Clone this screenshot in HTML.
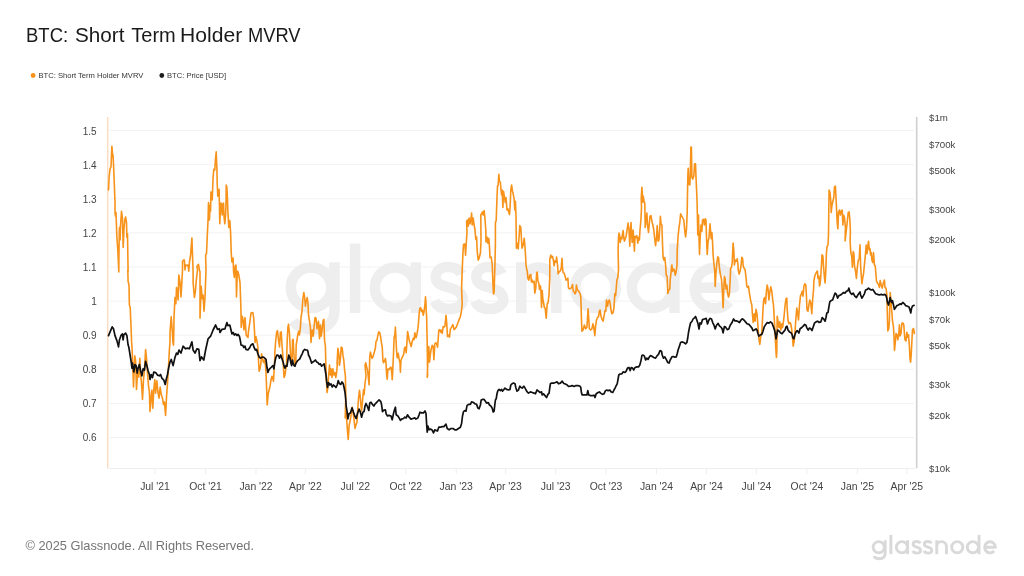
<!DOCTYPE html>
<html><head><meta charset="utf-8"><title>BTC: Short Term Holder MVRV</title>
<style>
html,body{margin:0;padding:0;background:#fff;}
body{width:1024px;height:576px;position:relative;overflow:hidden;filter:blur(0.55px);font-family:"Liberation Sans",sans-serif;color:#222;}
.tw{position:absolute;top:23px;font-size:20px;line-height:24px;color:#1a1a1c;white-space:nowrap;transform-origin:0 0;display:block;}
.legend{position:absolute;top:71.1px;font-size:7.6px;line-height:10px;color:#333;white-space:nowrap;}
.dot{position:absolute;width:4.4px;height:4.4px;border-radius:50%;}
.yl{position:absolute;left:61.7px;width:35px;text-align:right;font-size:10px;line-height:12px;color:#444;}
.yr{position:absolute;left:929px;font-size:9.7px;line-height:12px;color:#444;white-space:nowrap;}
.xl{position:absolute;top:481px;width:60px;text-align:center;font-size:10.4px;line-height:12px;color:#444;white-space:nowrap;}
.copy{position:absolute;left:25.5px;top:538px;font-size:12.8px;line-height:16px;color:#757575;white-space:nowrap;}
svg{position:absolute;left:0;top:0;}
</style></head><body>
<svg width="1024" height="576" viewBox="0 0 1024 576">
<circle cx="33.1" cy="75.5" r="2.4" fill="#f7931a"/><circle cx="161.8" cy="75.5" r="2.4" fill="#1c1c1e"/>
<line x1="109.5" x2="914" y1="130.60" y2="130.60" stroke="#f2f2f2" stroke-width="1"/>
<line x1="109.5" x2="914" y1="164.70" y2="164.70" stroke="#f2f2f2" stroke-width="1"/>
<line x1="109.5" x2="914" y1="198.80" y2="198.80" stroke="#f2f2f2" stroke-width="1"/>
<line x1="109.5" x2="914" y1="232.90" y2="232.90" stroke="#f2f2f2" stroke-width="1"/>
<line x1="109.5" x2="914" y1="267.00" y2="267.00" stroke="#f2f2f2" stroke-width="1"/>
<line x1="109.5" x2="914" y1="301.10" y2="301.10" stroke="#f2f2f2" stroke-width="1"/>
<line x1="109.5" x2="914" y1="335.20" y2="335.20" stroke="#f2f2f2" stroke-width="1"/>
<line x1="109.5" x2="914" y1="369.30" y2="369.30" stroke="#f2f2f2" stroke-width="1"/>
<line x1="109.5" x2="914" y1="403.40" y2="403.40" stroke="#f2f2f2" stroke-width="1"/>
<line x1="109.5" x2="914" y1="437.50" y2="437.50" stroke="#f2f2f2" stroke-width="1"/>
<line x1="107.5" x2="916.5" y1="468.5" y2="468.5" stroke="#eeeeee" stroke-width="1"/>
<line x1="155.0" x2="155.0" y1="468" y2="474" stroke="#eeeeee" stroke-width="1"/>
<line x1="205.48" x2="205.48" y1="468" y2="474" stroke="#eeeeee" stroke-width="1"/>
<line x1="255.96" x2="255.96" y1="468" y2="474" stroke="#eeeeee" stroke-width="1"/>
<line x1="305.35" x2="305.35" y1="468" y2="474" stroke="#eeeeee" stroke-width="1"/>
<line x1="355.28" x2="355.28" y1="468" y2="474" stroke="#eeeeee" stroke-width="1"/>
<line x1="405.77" x2="405.77" y1="468" y2="474" stroke="#eeeeee" stroke-width="1"/>
<line x1="456.25" x2="456.25" y1="468" y2="474" stroke="#eeeeee" stroke-width="1"/>
<line x1="505.63" x2="505.63" y1="468" y2="474" stroke="#eeeeee" stroke-width="1"/>
<line x1="555.57" x2="555.57" y1="468" y2="474" stroke="#eeeeee" stroke-width="1"/>
<line x1="606.05" x2="606.05" y1="468" y2="474" stroke="#eeeeee" stroke-width="1"/>
<line x1="656.53" x2="656.53" y1="468" y2="474" stroke="#eeeeee" stroke-width="1"/>
<line x1="706.46" x2="706.46" y1="468" y2="474" stroke="#eeeeee" stroke-width="1"/>
<line x1="756.4" x2="756.4" y1="468" y2="474" stroke="#eeeeee" stroke-width="1"/>
<line x1="806.88" x2="806.88" y1="468" y2="474" stroke="#eeeeee" stroke-width="1"/>
<line x1="857.36" x2="857.36" y1="468" y2="474" stroke="#eeeeee" stroke-width="1"/>
<line x1="906.75" x2="906.75" y1="468" y2="474" stroke="#eeeeee" stroke-width="1"/>
<line x1="107.7" x2="107.7" y1="117" y2="468" stroke="#fbdcc0" stroke-width="1.4"/>
<line x1="916.7" x2="916.7" y1="117" y2="468" stroke="#d0d0d2" stroke-width="1.6"/>
<g transform="translate(285.6,313)" stroke="#eeeeee" fill="none" stroke-width="10.5" stroke-linecap="butt" stroke-linejoin="round"><circle cx="25.5" cy="-25.35" r="20.25"/><path d="M48.85,-50.7 V-3 C48.85,10 40,16.5 28,16.5 C18,16.5 11,13 7.5,8"/><path d="M69.45,-69.5 V0"/><circle cx="109.6" cy="-25.35" r="20.25"/><path d="M130.15,-50.7 V0"/><path d="M175.6,-39 C173.6,-43.5 168.6,-46 162.6,-46 C154.6,-46 150.1,-41.5 150.1,-36 C150.1,-29.5 155.6,-27.5 163.1,-25.5 C171.1,-23.3 177.1,-20.5 177.1,-13.5 C177.1,-8 171.6,-4 163.1,-4 C156.1,-4 151.1,-7 148.85,-12"/><path d="M216.2,-39 C214.2,-43.5 209.2,-46 203.2,-46 C195.2,-46 190.7,-41.5 190.7,-36 C190.7,-29.5 196.2,-27.5 203.7,-25.5 C211.7,-23.3 217.7,-20.5 217.7,-13.5 C217.7,-8 212.2,-4 203.7,-4 C196.7,-4 191.7,-7 189.45,-12"/><path d="M235.65,0 V-50.7 M235.65,-28 A17.55,17.55 0 0 1 270.75,-28 V0"/><circle cx="309.9" cy="-25.35" r="20.25"/><circle cx="366.5" cy="-25.35" r="20.25"/><path d="M388.85,-69.5 V0"/><path d="M409.5,-25.35 H448.35 A19.6,20.25 0 1 0 443.5,-11.5"/></g>
<path d="M108.5 190.0 L109.1 177.5 L110.0 168.8 L111.0 166.9 L111.9 146.2 L112.5 153.8 L113.0 155.0 L113.5 163.8 L114.2 181.2 L115.0 202.5 L115.0 212.5 L115.5 216.2 L116.0 212.5 L116.9 237.5 L117.8 250.0 L118.8 272.0 L119.0 250.0 L119.4 228.8 L119.9 226.9 L120.1 240.0 L120.6 225.0 L121.5 211.2 L122.5 218.8 L123.2 247.5 L124.0 228.8 L124.8 220.0 L125.6 216.9 L126.5 222.5 L126.9 237.5 L127.5 233.8 L128.1 272.0 L127.8 270.0 L128.1 281.2 L129.0 285.0 L129.4 305.0 L130.2 307.5 L131.0 326.2 L131.6 342.0 L131.9 345.8 L132.5 358.2 L133.5 387.0 L134.0 373.2 L134.8 355.8 L135.6 360.8 L136.5 389.5 L137.5 373.2 L138.8 377.0 L139.8 358.2 L140.6 373.2 L141.5 383.2 L142.5 399.5 L143.5 379.5 L144.4 370.8 L145.6 349.5 L146.5 358.2 L147.5 373.2 L148.5 385.8 L149.4 392.0 L150.0 411.4 L151.0 398.2 L151.9 390.1 L152.8 408.2 L153.8 389.5 L154.8 379.5 L155.6 393.2 L156.9 380.8 L157.9 392.0 L159.0 398.2 L160.2 387.0 L161.2 394.5 L162.5 398.2 L163.5 404.5 L164.4 402.0 L165.6 415.5 L166.5 397.0 L167.5 383.2 L168.5 367.0 L169.4 349.5 L170.0 342.0 L170.0 332.5 L171.2 316.9 L172.2 330.0 L172.9 342.0 L173.5 345.1 L173.8 332.5 L174.0 317.5 L175.0 297.5 L175.9 303.8 L176.5 287.5 L177.5 292.5 L178.1 300.0 L178.8 275.0 L180.0 282.5 L181.0 296.9 L181.9 281.2 L182.5 270.0 L182.5 261.2 L183.5 260.0 L184.4 260.0 L185.0 270.0 L185.6 265.0 L186.9 265.6 L188.1 265.0 L188.8 271.2 L189.4 262.5 L190.6 255.0 L191.9 238.1 L192.5 255.0 L193.1 272.0 L193.1 282.5 L194.4 297.5 L195.4 291.2 L196.2 281.2 L197.5 270.0 L196.9 266.2 L198.5 264.4 L199.4 270.0 L200.0 272.0 L200.0 318.1 L201.2 286.2 L202.2 298.8 L203.1 295.0 L204.0 311.2 L205.0 297.5 L206.0 270.0 L205.6 255.0 L206.5 253.8 L207.2 237.5 L208.1 218.8 L208.5 202.5 L209.4 220.0 L210.2 205.0 L210.6 211.0 L210.9 192.0 L211.9 192.5 L212.2 200.0 L213.1 177.5 L213.8 169.4 L214.8 170.0 L215.4 160.0 L216.2 151.9 L216.9 168.8 L217.2 183.8 L217.8 196.2 L218.5 190.0 L219.1 189.4 L219.8 223.8 L220.6 205.0 L221.0 203.0 L221.5 203.8 L222.2 215.0 L223.1 203.8 L223.5 203.0 L224.0 216.2 L224.8 223.8 L225.6 215.0 L226.1 200.0 L226.2 185.0 L226.9 187.5 L227.5 200.0 L227.8 210.0 L228.8 227.5 L229.8 220.6 L230.6 232.5 L231.2 252.5 L231.9 262.0 L233.1 258.0 L233.6 272.0 L234.4 277.5 L235.2 266.0 L236.0 265.0 L236.5 296.9 L237.3 271.0 L238.1 272.0 L238.8 275.0 L240.0 282.5 L240.9 307.5 L241.2 327.5 L242.2 316.2 L243.1 320.0 L244.0 330.0 L245.0 317.5 L246.2 335.0 L248.0 337.5 L248.5 331.2 L249.8 322.5 L251.0 313.1 L252.9 312.5 L253.8 318.8 L254.5 331.2 L255.0 342.5 L256.0 336.9 L257.0 341.2 L257.9 347.5 L258.5 360.0 L259.1 371.2 L260.0 368.8 L261.0 362.5 L261.6 353.8 L262.5 358.8 L263.5 362.5 L264.5 360.0 L265.4 365.0 L266.0 372.5 L266.6 387.5 L267.2 405.0 L268.2 393.8 L269.1 390.0 L270.0 386.2 L271.0 380.0 L272.0 376.2 L272.9 378.8 L273.5 381.2 L274.1 370.0 L274.8 357.5 L274.8 352.5 L275.8 340.0 L276.6 332.5 L277.5 330.6 L278.5 340.0 L279.5 346.9 L280.4 332.5 L281.2 331.9 L282.0 345.0 L282.9 356.2 L283.5 368.8 L284.1 377.5 L285.0 375.0 L285.8 368.8 L286.5 365.0 L287.2 340.0 L287.9 327.5 L288.5 324.4 L289.5 333.8 L290.4 352.5 L291.0 362.0 L291.5 364.4 L292.0 362.0 L292.5 340.0 L293.2 339.4 L293.8 352.5 L294.5 362.0 L295.1 365.6 L295.8 362.0 L296.2 345.0 L297.0 340.0 L297.9 333.8 L298.8 331.2 L299.5 335.0 L300.4 327.5 L301.0 317.5 L302.0 311.2 L302.9 298.8 L303.8 292.5 L304.5 296.2 L305.4 306.2 L306.2 301.2 L307.2 297.5 L307.9 302.5 L308.5 315.0 L309.5 321.2 L310.4 327.5 L311.0 342.5 L311.6 335.0 L312.2 330.0 L313.2 336.2 L314.1 326.2 L315.0 317.5 L316.0 318.1 L317.0 328.8 L317.9 323.8 L318.5 321.2 L319.5 338.8 L320.4 325.0 L321.2 336.2 L322.2 328.8 L323.2 320.0 L323.9 319.4 L324.5 340.0 L325.4 346.2 L325.8 362.5 L326.2 375.0 L327.0 392.5 L327.9 387.5 L328.5 377.5 L329.5 365.0 L330.4 375.0 L331.0 368.8 L332.0 377.5 L332.9 368.8 L333.8 375.0 L334.8 372.5 L335.8 377.5 L336.6 372.5 L337.5 362.5 L337.0 364.0 L337.9 348.4 L338.8 354.0 L339.5 365.2 L340.4 359.0 L341.2 347.1 L342.2 347.8 L342.9 355.2 L343.8 360.2 L344.5 369.0 L345.4 376.0 L345.8 395.0 L345.2 418.0 L346.1 412.0 L347.0 424.0 L347.5 431.0 L348.2 439.5 L349.1 426.0 L350.8 417.2 L351.6 409.8 L352.2 407.2 L353.2 413.5 L354.1 419.8 L355.0 428.5 L356.0 424.8 L357.0 422.2 L357.9 407.2 L358.5 398.5 L359.5 390.4 L360.4 398.5 L361.0 406.0 L361.6 411.0 L362.5 401.0 L363.5 389.8 L364.1 394.8 L365.0 383.5 L366.0 376.0 L365.0 365.2 L365.8 362.8 L366.6 366.5 L367.5 370.2 L368.2 376.0 L369.1 384.8 L369.5 366.5 L369.8 356.5 L370.4 352.1 L371.2 355.2 L372.0 358.4 L372.9 357.1 L373.8 354.0 L374.5 351.5 L375.4 347.8 L376.0 341.5 L377.0 340.2 L377.9 335.2 L378.8 331.8 L379.8 332.8 L380.8 337.8 L381.6 344.0 L382.2 346.5 L382.9 360.2 L383.5 362.8 L384.5 360.9 L385.4 358.4 L386.0 362.8 L386.6 374.0 L387.2 379.1 L387.9 369.0 L389.1 369.6 L390.0 367.8 L391.0 367.1 L391.9 374.0 L392.2 379.8 L392.6 374.0 L393.0 364.0 L393.5 354.0 L394.1 337.8 L394.8 335.2 L395.4 327.1 L396.0 339.0 L396.6 351.5 L397.2 357.8 L398.2 353.4 L399.1 359.0 L400.0 362.8 L400.4 372.1 L401.0 360.2 L402.0 357.8 L402.9 355.9 L403.8 354.0 L404.5 347.8 L405.4 347.1 L406.2 352.8 L407.0 341.5 L407.6 331.5 L408.5 336.5 L409.5 341.5 L410.4 344.0 L411.2 346.5 L412.2 341.5 L413.2 338.4 L414.1 339.6 L414.8 332.8 L416.0 337.8 L417.0 334.0 L417.9 328.4 L418.5 322.8 L419.1 314.0 L419.8 308.4 L420.8 307.8 L421.6 311.5 L422.5 310.2 L423.2 315.2 L424.1 311.5 L425.1 302.8 L425.5 296.8 L426.0 302.8 L426.2 310.2 L426.6 316.5 L427.2 341.5 L427.6 376.0 L427.2 377.2 L428.2 354.0 L428.8 346.5 L429.5 362.1 L430.4 354.0 L431.2 349.0 L432.2 345.2 L433.2 346.5 L433.9 359.6 L434.8 344.0 L435.8 342.8 L436.6 343.4 L437.5 347.1 L438.2 339.0 L438.8 330.2 L439.8 329.6 L440.8 332.1 L441.6 330.2 L442.2 333.4 L443.2 326.5 L444.1 327.1 L445.0 325.9 L446.0 315.2 L446.6 321.5 L447.5 336.5 L448.5 335.2 L449.5 337.1 L450.4 329.0 L451.6 327.1 L452.9 324.6 L454.1 329.6 L455.4 328.4 L456.6 326.5 L457.9 322.8 L459.1 319.6 L460.4 316.5 L461.6 310.2 L462.2 304.0 L461.6 288.2 L462.2 269.5 L462.9 254.5 L463.5 244.5 L464.5 243.9 L465.0 245.8 L465.5 255.1 L466.2 244.5 L467.0 232.0 L466.6 221.2 L467.5 220.0 L468.2 226.2 L469.1 218.1 L470.0 223.8 L470.8 220.0 L471.6 213.1 L472.2 225.0 L473.2 218.1 L474.1 225.0 L475.0 230.0 L475.8 239.5 L476.6 237.0 L477.2 250.8 L478.2 260.1 L479.1 258.2 L480.4 253.2 L481.0 242.0 L480.8 215.0 L481.6 213.8 L482.5 211.9 L483.2 215.0 L484.1 210.6 L485.0 218.8 L485.8 230.0 L486.0 242.0 L487.0 237.0 L487.9 243.2 L488.8 238.2 L489.5 247.0 L490.0 257.6 L491.2 257.0 L492.2 264.5 L492.9 282.0 L493.5 293.9 L494.1 292.0 L494.8 269.5 L495.4 244.5 L495.4 222.5 L496.2 220.6 L497.0 197.5 L497.5 186.2 L498.2 185.0 L498.8 174.4 L499.5 181.2 L500.4 182.5 L501.0 190.0 L501.6 195.0 L502.2 190.0 L502.9 207.5 L503.5 191.2 L504.5 197.5 L505.4 202.5 L506.0 197.5 L507.0 210.0 L507.9 208.8 L508.8 212.5 L509.5 214.4 L510.1 207.5 L510.8 190.0 L511.6 185.0 L512.5 191.2 L513.2 193.8 L514.1 198.8 L514.8 210.0 L515.4 201.2 L516.0 216.2 L516.4 248.2 L517.2 243.2 L518.2 248.9 L518.9 239.5 L519.8 225.6 L520.8 227.5 L522.0 248.2 L522.9 245.8 L523.5 243.2 L524.2 238.2 L524.8 244.5 L525.4 253.2 L526.0 264.5 L526.6 268.9 L527.2 270.8 L527.9 278.2 L528.8 280.1 L529.8 275.1 L530.8 274.5 L531.4 282.0 L532.2 280.1 L533.2 282.6 L534.1 281.4 L534.8 293.2 L535.8 288.2 L536.6 273.2 L537.2 272.0 L537.9 280.8 L538.8 283.2 L539.5 289.5 L540.4 285.8 L541.0 291.4 L541.5 307.5 L542.2 290.6 L542.8 298.8 L543.5 302.5 L544.4 307.5 L545.2 308.1 L546.2 318.1 L547.2 303.8 L548.1 302.5 L549.0 295.0 L549.8 276.2 L549.8 259.5 L550.8 255.1 L551.6 257.6 L552.5 256.4 L553.5 260.8 L554.1 265.8 L555.0 260.8 L556.0 262.0 L556.6 257.0 L557.5 264.5 L558.2 273.9 L559.1 272.0 L560.4 270.8 L561.2 268.2 L562.0 258.2 L562.5 268.2 L563.2 272.6 L564.1 273.2 L565.0 275.8 L566.0 280.1 L567.0 279.5 L567.9 278.2 L568.5 288.2 L569.5 288.9 L570.8 288.2 L571.6 287.6 L572.5 284.5 L573.2 290.8 L574.1 292.0 L575.0 293.9 L575.8 292.6 L576.4 285.1 L577.2 289.5 L578.2 290.8 L579.1 292.0 L580.0 293.2 L580.8 297.0 L581.5 320.0 L581.9 331.2 L583.1 330.0 L584.4 325.0 L585.6 328.8 L586.9 327.5 L587.5 318.8 L588.1 308.8 L588.8 320.0 L589.4 328.8 L590.6 330.0 L591.9 328.8 L592.9 323.8 L593.8 327.5 L594.8 335.6 L595.6 326.2 L596.5 320.0 L597.5 317.5 L598.5 316.9 L599.4 311.2 L600.0 310.0 L601.0 316.2 L601.9 318.8 L603.1 321.2 L604.0 316.2 L605.0 310.6 L605.8 311.2 L606.5 300.0 L607.5 306.2 L608.5 301.2 L609.4 300.0 L610.2 303.8 L611.0 310.0 L611.9 313.8 L613.1 312.5 L614.0 307.5 L614.8 293.8 L615.6 295.6 L616.2 288.8 L616.9 280.0 L617.8 277.5 L618.5 270.0 L618.1 250.0 L618.5 237.5 L619.0 233.1 L619.8 236.2 L620.2 242.5 L621.0 237.5 L621.9 238.8 L622.5 233.8 L623.1 230.6 L623.8 237.5 L624.4 241.2 L625.2 238.8 L626.2 236.2 L627.2 228.8 L628.1 223.1 L629.0 230.0 L629.8 246.2 L630.4 231.2 L631.0 222.5 L631.5 232.5 L632.2 242.5 L633.1 230.0 L633.8 240.0 L634.4 251.2 L635.0 236.2 L636.0 237.5 L636.9 235.6 L637.8 243.1 L638.5 237.5 L639.4 240.0 L640.0 230.0 L641.0 218.8 L641.5 207.5 L641.2 198.5 L641.9 187.2 L642.4 194.8 L642.8 202.2 L643.2 196.0 L644.0 201.0 L644.8 203.5 L645.2 227.5 L646.0 220.0 L646.9 213.1 L647.5 225.0 L648.5 232.5 L649.4 222.5 L650.0 216.2 L651.0 215.6 L651.9 221.2 L652.8 225.0 L653.8 230.0 L654.4 236.2 L655.0 241.2 L655.6 245.6 L656.5 237.5 L657.2 225.6 L658.1 241.2 L659.0 240.0 L659.8 227.5 L660.4 216.2 L661.0 223.8 L661.9 225.0 L662.5 243.8 L663.1 257.5 L663.8 260.0 L664.8 257.5 L665.6 265.0 L666.2 275.2 L667.2 276.5 L667.8 293.4 L668.8 290.2 L669.8 289.0 L670.2 280.2 L671.0 272.8 L671.6 266.5 L671.9 265.0 L672.5 271.5 L673.5 269.0 L674.4 270.2 L675.2 275.2 L676.2 271.5 L677.0 265.2 L677.2 250.0 L678.1 236.2 L679.0 227.5 L679.8 222.5 L680.6 213.8 L681.5 215.6 L682.5 217.5 L683.8 220.0 L684.8 231.2 L685.6 236.9 L686.5 228.8 L687.2 212.5 L687.5 193.5 L687.8 177.2 L688.2 168.2 L688.8 184.1 L689.8 185.0 L690.2 177.2 L690.9 147.0 L691.4 147.0 L691.9 177.2 L692.8 179.1 L693.8 176.0 L694.6 163.8 L695.5 163.8 L696.0 177.2 L696.8 194.8 L697.2 206.0 L697.2 207.5 L697.8 235.0 L698.5 215.0 L699.0 237.5 L699.5 254.4 L700.2 237.5 L701.0 225.0 L701.9 231.2 L702.5 220.0 L703.5 219.4 L704.4 225.0 L705.2 218.8 L706.0 220.0 L706.5 237.5 L707.2 254.4 L708.1 241.2 L709.0 237.5 L710.0 223.8 L710.6 231.2 L711.2 238.8 L711.9 232.5 L712.5 241.2 L713.1 255.0 L713.8 262.5 L714.8 272.0 L715.2 286.5 L716.0 272.0 L716.9 262.5 L717.8 256.9 L718.5 257.5 L719.4 267.5 L720.0 272.0 L720.6 275.2 L721.5 279.0 L722.2 289.0 L723.1 307.8 L723.8 289.0 L724.4 276.5 L725.2 279.0 L726.0 289.0 L726.9 285.2 L727.5 292.8 L728.5 297.1 L729.4 294.0 L730.0 282.8 L730.5 272.0 L730.6 268.1 L731.5 267.5 L732.2 262.5 L733.1 243.1 L733.8 250.0 L734.4 265.0 L735.2 260.0 L736.2 261.2 L737.2 258.8 L738.0 265.0 L738.2 269.8 L739.2 274.1 L740.1 271.0 L741.0 266.0 L741.8 257.2 L742.6 258.5 L743.2 266.0 L744.2 268.5 L745.1 269.8 L746.0 277.2 L746.8 286.2 L747.6 287.5 L748.5 286.2 L749.5 293.8 L750.8 301.2 L751.8 305.0 L752.6 316.2 L753.2 322.5 L754.2 313.8 L755.1 321.2 L756.0 309.4 L757.0 313.8 L757.6 321.2 L758.2 330.0 L758.9 338.8 L759.8 344.4 L760.8 336.2 L761.8 332.5 L762.6 317.5 L763.2 305.0 L763.9 298.8 L764.8 297.5 L765.5 303.8 L766.4 291.2 L767.2 285.0 L768.0 288.8 L768.9 300.0 L769.8 292.5 L770.8 286.9 L771.8 291.2 L772.6 298.8 L773.5 305.0 L774.2 317.5 L774.9 330.0 L775.5 342.5 L776.0 352.0 L776.4 357.5 L776.8 352.0 L777.2 316.2 L778.0 321.2 L778.9 327.5 L779.8 321.9 L780.8 330.0 L781.8 323.8 L782.6 327.5 L783.5 321.2 L784.2 315.0 L785.1 305.0 L786.0 298.8 L786.8 298.1 L787.2 308.8 L788.0 320.0 L788.9 323.8 L789.8 322.5 L790.8 323.8 L791.8 330.0 L792.6 338.8 L793.2 346.2 L794.2 341.2 L795.1 330.0 L796.0 317.5 L796.8 308.1 L797.6 312.5 L798.5 320.0 L799.5 305.0 L800.5 295.6 L801.4 293.8 L802.2 291.2 L803.0 296.2 L803.9 286.2 L804.8 283.8 L805.8 285.0 L806.4 295.0 L807.0 310.0 L808.0 311.2 L808.9 305.0 L809.8 300.0 L810.8 303.1 L811.8 313.8 L812.6 300.0 L813.5 290.0 L813.9 281.0 L814.8 276.0 L815.8 273.5 L816.8 271.6 L817.4 271.0 L818.0 278.5 L818.9 276.0 L819.5 286.0 L820.1 284.1 L820.8 276.0 L821.4 266.0 L822.0 254.8 L822.9 256.0 L823.5 266.0 L824.2 274.8 L825.1 282.9 L825.8 271.0 L826.4 253.5 L827.0 246.6 L828.0 244.8 L828.5 234.8 L828.8 210.0 L829.1 190.0 L830.0 192.5 L830.8 201.2 L831.2 212.5 L832.0 205.0 L832.9 201.2 L833.8 197.5 L834.5 186.9 L835.4 186.2 L836.0 197.5 L836.6 210.0 L837.2 222.5 L837.9 228.8 L838.5 212.5 L839.5 210.0 L840.4 215.0 L841.2 211.2 L842.2 210.0 L842.9 225.0 L843.5 215.0 L844.5 217.5 L845.4 227.5 L845.1 241.0 L847.2 222.5 L848.2 212.5 L849.1 211.9 L849.8 218.8 L850.4 232.0 L850.1 241.0 L850.8 252.2 L851.8 257.2 L852.4 267.2 L853.2 251.6 L853.9 253.5 L854.5 266.0 L855.5 271.0 L856.4 278.5 L857.2 268.5 L858.2 260.4 L859.2 259.1 L860.0 244.8 L860.6 265.0 L861.2 275.0 L861.9 283.8 L862.8 277.5 L863.5 273.8 L864.4 265.0 L865.0 258.8 L865.6 252.5 L866.2 245.0 L866.9 253.8 L867.8 247.5 L868.5 241.2 L869.4 250.0 L870.0 248.8 L870.6 255.0 L871.2 252.5 L871.9 260.0 L872.8 262.5 L873.5 252.5 L874.4 265.0 L875.2 265.6 L876.0 275.0 L876.5 281.2 L877.5 283.1 L878.5 284.4 L879.4 287.5 L880.2 280.6 L881.2 285.0 L882.2 288.1 L883.1 283.8 L884.4 280.0 L885.0 287.5 L886.0 288.1 L886.9 295.0 L887.1 305.0 L887.2 308.5 L887.8 331.0 L888.8 328.5 L889.4 321.0 L889.8 303.5 L890.2 292.5 L891.0 301.0 L891.5 308.5 L891.9 312.2 L892.5 321.0 L893.5 327.2 L894.0 337.2 L894.5 350.4 L895.2 343.5 L896.0 333.5 L896.9 334.8 L897.8 339.8 L898.8 333.5 L899.4 324.8 L900.0 336.0 L901.0 333.5 L901.9 323.5 L902.8 322.9 L903.8 324.8 L904.4 333.5 L905.0 339.8 L906.0 341.0 L906.9 332.2 L907.5 337.2 L908.5 334.8 L909.4 346.0 L910.0 358.5 L910.6 362.2 L911.2 354.8 L911.9 341.0 L912.5 329.8 L913.5 328.5 L914.4 333.5" fill="none" stroke="#f7931a" stroke-width="1.6" stroke-linejoin="round" stroke-linecap="round"/>
<path d="M108.5 335.6 L110.6 330.6 L112.2 326.9 L113.5 328.8 L115.0 335.6 L116.9 340.6 L118.5 346.9 L119.4 340.0 L121.2 335.0 L122.5 333.8 L123.1 340.0 L123.8 335.0 L125.6 333.1 L126.9 335.6 L128.1 345.0 L128.8 347.0 L130.0 354.5 L131.2 362.0 L131.9 368.2 L132.5 363.2 L133.8 372.0 L135.0 364.5 L136.2 365.8 L137.2 373.2 L138.1 368.2 L139.4 364.5 L140.6 370.8 L141.9 375.8 L143.1 368.9 L144.4 370.1 L145.6 361.4 L146.9 365.8 L148.1 370.8 L149.4 374.5 L150.0 379.5 L151.2 374.5 L152.5 377.6 L153.8 372.0 L155.6 372.6 L157.5 375.1 L159.4 375.8 L160.6 374.5 L161.9 378.2 L163.8 380.1 L165.2 384.5 L166.2 379.5 L167.5 374.5 L168.8 367.0 L170.0 362.0 L171.2 359.5 L173.1 365.6 L174.8 358.1 L176.5 353.1 L177.8 354.4 L179.0 350.0 L181.0 353.1 L183.1 346.2 L185.6 348.8 L187.5 348.1 L189.4 348.8 L191.9 341.9 L193.1 350.0 L195.0 353.1 L196.9 348.8 L198.8 349.4 L200.0 360.6 L201.5 356.9 L203.8 360.0 L205.6 350.0 L208.1 338.8 L210.6 336.2 L213.1 330.0 L215.6 325.0 L217.5 329.4 L219.4 328.8 L220.0 332.5 L221.9 329.4 L225.0 328.8 L226.9 322.5 L227.8 325.6 L229.8 325.0 L231.0 330.0 L231.9 333.8 L233.1 332.5 L234.4 335.0 L235.6 333.8 L236.9 335.6 L238.1 334.4 L239.4 336.2 L240.6 342.0 L241.0 345.0 L242.9 345.6 L243.8 347.5 L245.0 346.2 L246.0 349.4 L247.9 350.0 L249.8 347.5 L251.0 345.0 L252.9 343.8 L254.1 347.5 L255.4 350.0 L256.6 349.4 L257.9 353.8 L259.1 356.9 L260.4 358.1 L261.6 357.5 L262.9 356.9 L264.1 357.5 L266.0 359.4 L267.0 367.5 L267.9 372.5 L269.1 369.4 L271.0 367.5 L272.9 365.6 L273.9 368.8 L274.8 362.5 L275.8 357.5 L277.0 355.0 L278.5 355.6 L279.5 358.1 L280.8 355.0 L282.0 358.8 L283.2 362.5 L284.1 366.2 L285.0 368.1 L286.0 365.6 L287.0 366.2 L287.9 360.0 L288.8 355.0 L289.8 357.5 L290.8 362.5 L291.6 365.6 L292.5 360.0 L293.2 363.8 L294.1 365.6 L295.0 366.2 L296.0 363.1 L297.2 361.2 L298.5 360.0 L299.8 358.8 L301.0 356.2 L302.2 353.8 L303.5 350.6 L304.8 349.4 L306.0 350.0 L307.2 350.0 L307.9 351.2 L308.5 355.0 L309.8 357.5 L310.8 360.6 L311.6 363.1 L312.9 361.9 L314.1 361.2 L315.4 360.0 L316.6 361.9 L317.9 362.5 L319.1 364.4 L320.4 363.8 L321.6 366.2 L322.9 365.0 L324.1 363.8 L325.0 368.8 L326.0 375.0 L326.6 381.2 L327.5 387.5 L328.5 382.5 L329.8 385.0 L331.0 383.8 L332.2 386.9 L333.5 385.0 L334.8 386.2 L336.0 387.5 L337.2 385.0 L338.2 380.6 L339.5 383.8 L340.8 384.4 L342.0 381.9 L343.2 383.8 L344.1 387.5 L345.0 392.5 L345.8 400.0 L346.2 406.2 L347.0 411.2 L347.9 418.8 L349.1 413.5 L350.4 412.9 L352.0 407.9 L353.5 412.2 L354.8 416.0 L356.2 418.5 L357.5 413.5 L359.1 409.1 L360.4 412.2 L361.6 417.2 L362.9 412.2 L364.1 411.6 L365.0 406.0 L366.0 403.5 L367.2 406.0 L368.8 410.4 L369.8 402.9 L371.0 402.2 L372.2 404.1 L373.8 406.0 L375.0 404.1 L376.2 402.9 L377.9 401.0 L379.1 399.8 L380.8 401.6 L381.6 404.8 L382.5 411.6 L383.5 410.4 L385.4 409.8 L386.2 414.1 L387.5 416.0 L389.1 415.4 L391.0 416.0 L392.2 419.8 L393.5 413.5 L394.5 409.8 L395.4 407.2 L396.2 414.8 L397.9 416.0 L399.1 417.9 L400.4 420.4 L401.6 419.1 L403.5 418.5 L404.8 417.2 L406.2 417.9 L407.5 414.8 L409.1 417.2 L411.0 419.1 L412.9 418.5 L414.8 417.9 L416.0 419.1 L417.9 417.9 L419.1 414.8 L420.0 412.2 L421.6 412.9 L423.5 412.9 L425.0 411.0 L426.0 413.5 L426.6 423.5 L427.2 432.2 L427.9 426.0 L429.1 429.8 L430.4 429.1 L432.0 429.8 L433.5 432.9 L434.8 429.8 L436.0 430.4 L437.5 431.0 L438.8 427.2 L440.4 427.2 L442.2 426.6 L444.1 426.6 L446.0 424.1 L447.2 428.5 L449.1 429.8 L451.0 428.5 L452.9 428.5 L454.8 429.8 L456.6 429.8 L458.5 428.5 L460.4 427.2 L461.6 423.5 L462.5 416.0 L463.5 411.6 L464.8 410.6 L466.0 411.2 L467.0 405.6 L468.5 404.4 L470.4 404.4 L471.6 401.9 L473.5 402.5 L475.0 403.8 L476.6 404.4 L477.9 408.1 L479.1 408.8 L480.4 405.0 L481.2 400.0 L482.9 399.4 L484.1 399.4 L485.4 401.2 L486.6 403.1 L488.2 402.5 L489.5 405.0 L491.0 406.2 L492.2 408.1 L493.2 412.0 L494.1 411.2 L494.8 405.0 L495.4 400.0 L496.2 398.8 L497.0 393.8 L497.9 390.6 L499.1 389.4 L500.4 390.6 L501.6 389.4 L502.5 391.2 L503.5 390.0 L505.0 388.1 L506.6 389.4 L508.5 390.0 L510.0 389.4 L510.8 385.0 L512.0 383.8 L513.5 383.1 L515.0 383.8 L515.8 387.5 L517.0 391.2 L518.5 390.0 L519.8 386.2 L521.0 387.5 L522.2 388.1 L523.8 386.2 L524.8 387.5 L526.0 390.0 L527.2 391.9 L528.5 393.1 L530.4 391.9 L532.2 392.5 L534.1 393.1 L535.4 393.8 L537.0 390.0 L538.5 391.2 L540.0 392.5 L541.6 391.9 L542.2 395.0 L543.5 393.8 L545.0 395.6 L546.6 397.5 L547.9 394.4 L549.1 393.1 L549.8 387.5 L550.4 383.8 L551.6 383.1 L553.5 383.1 L555.4 382.5 L557.0 381.9 L558.5 383.8 L560.4 383.1 L562.2 381.2 L563.8 383.5 L565.4 384.0 L567.2 385.0 L568.5 386.5 L570.4 386.2 L572.2 385.6 L574.1 386.5 L576.0 385.6 L577.9 385.6 L579.8 386.0 L580.8 387.5 L581.4 392.5 L582.2 395.0 L584.0 394.8 L585.0 394.8 L586.9 395.0 L587.8 390.6 L588.8 395.0 L590.6 395.6 L592.5 395.6 L594.0 395.2 L595.0 397.5 L596.2 393.8 L598.1 392.5 L599.4 391.9 L600.6 393.1 L602.5 394.4 L604.0 393.8 L605.2 391.2 L606.5 390.0 L608.1 390.6 L609.8 390.0 L611.2 391.9 L612.8 392.5 L614.0 390.0 L615.0 388.1 L616.2 385.6 L617.2 383.8 L618.1 378.8 L618.8 375.0 L620.0 374.0 L621.9 373.8 L623.1 371.9 L625.0 372.5 L626.2 371.2 L627.5 368.1 L629.0 367.5 L630.2 370.6 L631.2 367.5 L632.5 368.1 L633.8 370.0 L635.0 367.5 L636.9 366.9 L638.5 366.9 L639.8 365.0 L641.0 360.6 L641.9 355.6 L643.1 355.0 L644.4 356.2 L645.6 360.0 L646.9 358.1 L648.1 359.4 L649.4 356.9 L650.6 355.6 L651.9 356.2 L653.8 357.5 L655.6 358.1 L657.2 355.6 L658.5 354.4 L660.0 350.6 L661.5 351.2 L662.2 355.0 L663.5 358.1 L664.8 356.9 L666.2 359.4 L667.8 362.5 L669.0 363.1 L670.2 360.0 L671.9 356.9 L673.5 356.5 L675.0 357.2 L676.2 356.9 L677.2 353.8 L678.1 350.0 L679.4 346.2 L680.6 342.5 L681.9 341.9 L683.8 342.5 L685.6 343.8 L686.9 342.5 L687.8 337.5 L688.5 332.5 L689.4 327.8 L690.6 322.8 L691.9 321.5 L693.1 319.0 L694.4 317.8 L695.6 316.5 L696.9 320.2 L698.1 324.0 L699.0 329.0 L700.0 322.8 L701.2 324.0 L702.5 319.6 L704.4 319.0 L706.2 318.4 L707.5 324.0 L708.8 320.2 L710.0 318.4 L711.5 319.0 L712.8 322.8 L714.0 325.2 L715.2 329.0 L716.5 325.2 L718.1 323.4 L719.4 325.9 L721.0 327.1 L722.2 329.0 L723.1 332.8 L724.4 326.5 L725.6 327.1 L727.2 329.6 L728.8 329.0 L730.2 325.2 L731.9 322.8 L733.5 319.0 L735.0 320.9 L736.5 320.9 L738.0 321.5 L739.5 322.5 L741.0 320.0 L742.2 318.8 L743.9 320.0 L745.5 321.9 L747.0 323.8 L748.9 324.4 L750.5 326.2 L752.0 328.1 L753.0 330.6 L754.5 330.0 L756.0 328.8 L757.0 330.0 L758.0 333.8 L758.9 336.2 L760.1 335.0 L761.8 334.4 L763.0 331.2 L764.2 326.9 L765.8 324.4 L767.2 322.5 L768.9 323.1 L770.5 321.9 L772.0 323.1 L773.2 326.2 L774.5 330.0 L775.5 335.0 L776.0 338.8 L776.8 335.0 L777.6 330.0 L779.2 331.2 L780.8 333.1 L782.0 333.8 L783.5 331.9 L785.1 330.0 L786.0 326.9 L787.0 326.2 L788.0 330.0 L789.5 331.9 L790.8 332.5 L792.0 334.4 L793.0 338.1 L793.9 338.8 L794.8 335.0 L796.0 331.9 L797.2 330.6 L798.9 333.1 L800.1 328.8 L801.8 327.5 L803.2 326.2 L804.5 324.4 L805.8 325.0 L807.0 328.1 L808.2 330.0 L809.5 328.1 L810.8 328.8 L812.0 330.6 L813.2 326.9 L814.5 323.1 L816.0 321.9 L817.6 321.2 L819.2 322.5 L820.8 321.9 L822.2 317.5 L823.5 318.8 L825.1 321.2 L826.0 317.5 L826.8 313.1 L828.0 312.5 L828.9 306.9 L829.8 301.9 L831.0 300.6 L832.6 300.0 L833.9 296.2 L835.1 293.1 L836.4 294.4 L837.6 298.1 L838.9 295.6 L840.5 295.0 L842.0 293.8 L843.5 292.5 L845.1 293.1 L846.4 291.2 L848.0 290.6 L848.9 288.1 L850.1 292.5 L851.8 294.4 L853.2 293.1 L854.8 296.2 L856.4 297.5 L858.2 294.4 L860.0 291.9 L860.6 295.0 L861.9 298.1 L863.1 296.2 L864.4 293.8 L865.6 290.0 L867.2 289.4 L868.5 288.1 L870.0 289.4 L871.5 290.0 L872.8 289.4 L874.0 291.2 L875.6 293.8 L877.5 294.4 L879.4 295.0 L881.2 294.4 L883.1 295.0 L884.8 294.4 L886.0 295.6 L886.9 298.8 L887.5 302.5 L888.5 305.0 L889.4 301.2 L890.2 297.5 L891.0 301.2 L891.9 302.5 L892.5 300.6 L893.5 305.0 L894.4 309.4 L895.6 307.5 L896.9 305.6 L898.5 305.0 L900.0 303.8 L901.2 304.4 L902.8 302.5 L904.4 303.8 L905.6 305.6 L907.5 306.2 L909.0 306.9 L910.0 310.0 L910.8 312.9 L911.5 308.5 L912.5 306.0 L914.0 305.4" fill="none" stroke="#111113" stroke-width="1.7" stroke-linejoin="round" stroke-linecap="round"/>
<g transform="translate(871.7,554.2) scale(0.276)" stroke="#d9d9d9" fill="none" stroke-width="10.5" stroke-linecap="butt" stroke-linejoin="round"><circle cx="25.5" cy="-25.35" r="20.25"/><path d="M48.85,-50.7 V-3 C48.85,10 40,16.5 28,16.5 C18,16.5 11,13 7.5,8"/><path d="M69.45,-69.5 V0"/><circle cx="109.6" cy="-25.35" r="20.25"/><path d="M130.15,-50.7 V0"/><path d="M175.6,-39 C173.6,-43.5 168.6,-46 162.6,-46 C154.6,-46 150.1,-41.5 150.1,-36 C150.1,-29.5 155.6,-27.5 163.1,-25.5 C171.1,-23.3 177.1,-20.5 177.1,-13.5 C177.1,-8 171.6,-4 163.1,-4 C156.1,-4 151.1,-7 148.85,-12"/><path d="M216.2,-39 C214.2,-43.5 209.2,-46 203.2,-46 C195.2,-46 190.7,-41.5 190.7,-36 C190.7,-29.5 196.2,-27.5 203.7,-25.5 C211.7,-23.3 217.7,-20.5 217.7,-13.5 C217.7,-8 212.2,-4 203.7,-4 C196.7,-4 191.7,-7 189.45,-12"/><path d="M235.65,0 V-50.7 M235.65,-28 A17.55,17.55 0 0 1 270.75,-28 V0"/><circle cx="309.9" cy="-25.35" r="20.25"/><circle cx="366.5" cy="-25.35" r="20.25"/><path d="M388.85,-69.5 V0"/><path d="M409.5,-25.35 H448.35 A19.6,20.25 0 1 0 443.5,-11.5"/></g>
</svg>
<span class="tw" style="left:25.6px;transform:scaleX(0.925)">BTC:</span><span class="tw" style="left:74.6px;transform:scaleX(1.035)">Short</span><span class="tw" style="left:131.3px;transform:scaleX(1.0)">Term</span><span class="tw" style="left:180.3px;transform:scaleX(1.055)">Holder</span><span class="tw" style="left:247.7px;transform:scaleX(0.915)">MVRV</span>
<div class="legend" style="left:38.5px">BTC: Short Term Holder MVRV</div>
<div class="legend" style="left:167px">BTC: Price [USD]</div>
<div class="yl" style="top:125.5px">1.5</div>
<div class="yl" style="top:159.6px">1.4</div>
<div class="yl" style="top:193.7px">1.3</div>
<div class="yl" style="top:227.8px">1.2</div>
<div class="yl" style="top:261.9px">1.1</div>
<div class="yl" style="top:296.0px">1</div>
<div class="yl" style="top:330.1px">0.9</div>
<div class="yl" style="top:364.2px">0.8</div>
<div class="yl" style="top:398.3px">0.7</div>
<div class="yl" style="top:432.4px">0.6</div>
<div class="yr" style="top:111.7px">$1m</div>
<div class="yr" style="top:138.9px">$700k</div>
<div class="yr" style="top:164.5px">$500k</div>
<div class="yr" style="top:203.5px">$300k</div>
<div class="yr" style="top:234.4px">$200k</div>
<div class="yr" style="top:287.2px">$100k</div>
<div class="yr" style="top:314.4px">$70k</div>
<div class="yr" style="top:340.0px">$50k</div>
<div class="yr" style="top:379.0px">$30k</div>
<div class="yr" style="top:409.9px">$20k</div>
<div class="yr" style="top:462.7px">$10k</div>
<div class="xl" style="left:125.0px">Jul '21</div>
<div class="xl" style="left:175.5px">Oct '21</div>
<div class="xl" style="left:226.0px">Jan '22</div>
<div class="xl" style="left:275.4px">Apr '22</div>
<div class="xl" style="left:325.3px">Jul '22</div>
<div class="xl" style="left:375.8px">Oct '22</div>
<div class="xl" style="left:426.2px">Jan '23</div>
<div class="xl" style="left:475.6px">Apr '23</div>
<div class="xl" style="left:525.6px">Jul '23</div>
<div class="xl" style="left:576.0px">Oct '23</div>
<div class="xl" style="left:626.5px">Jan '24</div>
<div class="xl" style="left:676.5px">Apr '24</div>
<div class="xl" style="left:726.4px">Jul '24</div>
<div class="xl" style="left:776.9px">Oct '24</div>
<div class="xl" style="left:827.4px">Jan '25</div>
<div class="xl" style="left:876.8px">Apr '25</div>
<div class="copy">© 2025 Glassnode. All Rights Reserved.</div>
</body></html>
